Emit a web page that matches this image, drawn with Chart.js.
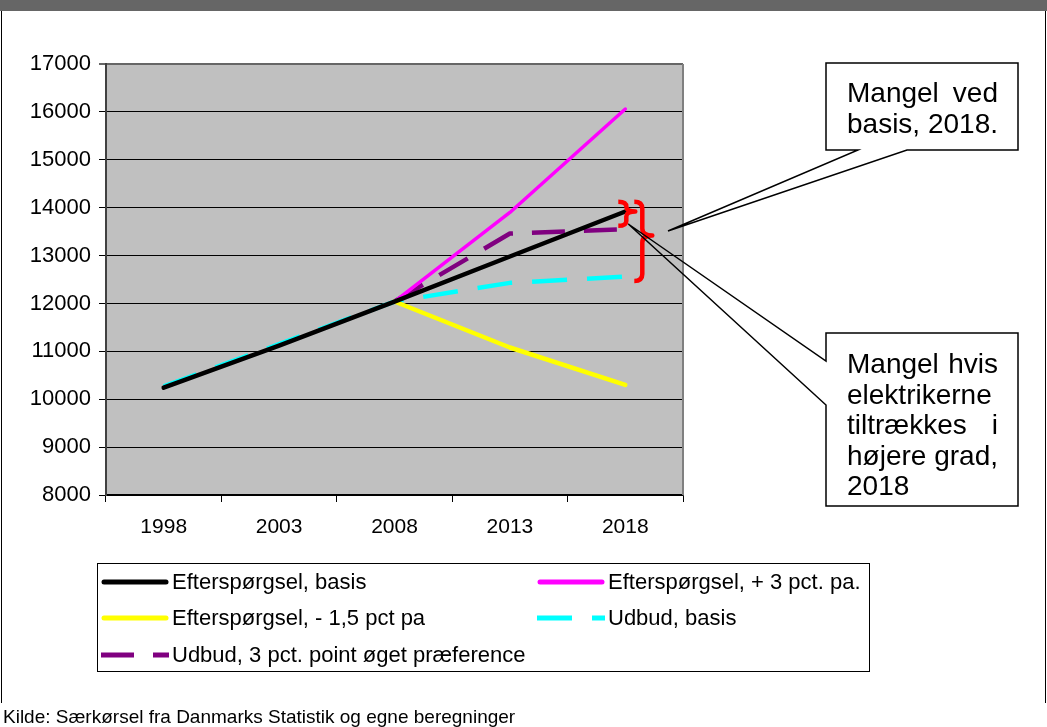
<!DOCTYPE html>
<html>
<head>
<meta charset="utf-8">
<script src="https://cdn.jsdelivr.net/npm/chart.js@4.4.1/dist/chart.umd.min.js"></script>
<style>
  html, body { margin: 0; padding: 0; background: #fff; }
  body { width: 1047px; height: 727px; position: relative; overflow: hidden;
         font-family: "Liberation Sans", Arial, sans-serif; color: #000; }
  #topband { position: absolute; left: 0; top: 0; width: 1047px; height: 11px; background: #666666; }
  #lborder { position: absolute; left: 1px; top: 11px; width: 1px; height: 692px; background: #000; }
  #rborder { position: absolute; left: 1045px; top: 11px; width: 1px; height: 692px; background: #000; }
  #c { position: absolute; left: 0; top: 0; }
  .note { position: absolute; font-size: 28px; line-height: 31px; width: 151px; }
  .note div { text-align: justify; text-align-last: justify; white-space: nowrap; }
  .note div.last { text-align: left; text-align-last: left; }
  #legend { position: absolute; left: 97px; top: 563px; width: 773px; height: 109px; border: 1px solid #000; box-sizing: border-box; }
  .li { position: absolute; height: 30px; font-size: 22px; line-height: 30px; white-space: nowrap; }
  .li svg { position: absolute; left: 0; top: 0; }
  .li span { position: absolute; top: 0; }
  #source { position: absolute; left: 3px; top: 706px; font-size: 19px; line-height: 22px; white-space: nowrap; }
</style>
</head>
<body>
<div id="topband"></div>
<div id="lborder"></div>
<div id="rborder"></div>
<canvas id="c" width="1047" height="727"></canvas>

<div class="note" style="left:847px; top:77px;">
  <div>Mangel ved</div>
  <div class="last">basis, 2018.</div>
</div>
<div class="note" style="left:847px; top:349px; line-height:30.6px;">
  <div>Mangel hvis</div>
  <div class="last">elektrikerne</div>
  <div>tiltrækkes i</div>
  <div>højere grad,</div>
  <div class="last">2018</div>
</div>

<div id="legend"></div>
<div id="source">Kilde: Særkørsel fra Danmarks Statistik og egne beregninger</div>

<script>
// ---- data ----
const categories = ['1998', '2003', '2008', '2013', '2018'];
const demandBasis   = [10240, 11120, 12040, 12980, 13920];
const demandPlus3   = [null, null, 12040, 13900, 16060];
const demandMinus15 = [null, null, 12040, 11080, 10300];
const supplyBasis   = [10270, 11150, 12040, 12430, 12560];
const supplyPref    = [null, null, 12040, 13460, 13550];
const seriesNames = [
  'Efterspørgsel, basis',
  'Efterspørgsel, + 3 pct. pa.',
  'Efterspørgsel, - 1,5 pct pa',
  'Udbud, basis',
  'Udbud, 3 pct. point øget præference'
];
const yMin = 8000, yMax = 17000, yStep = 1000;
// brace annotations (value ranges at 2018)
const smallBrace = { top: 14125, mid: 13920, bottom: 13620 };
const bigBrace   = { top: 14125, mid: 13420, bottom: 12470 };

const colors = ['#000000', '#FF00FF', '#FFFF00', '#00FFFF', '#800080'];
const widths = [4.5, 3.5, 4.5, 4.5, 4.5];
const dashes = [[], [], [], [35, 20], [33, 19]];
const seriesData = [demandBasis, demandPlus3, demandMinus15, supplyBasis, supplyPref];

const FONT = '"Liberation Sans", Arial, sans-serif';

const decorPlugin = {
  id: 'decor',
  beforeDraw(chart) {
    const a = chart.chartArea, ctx = chart.ctx;
    ctx.save();
    ctx.fillStyle = '#C0C0C0';
    ctx.fillRect(a.left, a.top, a.right - a.left, a.bottom - a.top);
    ctx.restore();
  },
  beforeDatasetsDraw(chart) {
    const a = chart.chartArea, ctx = chart.ctx;
    ctx.save();
    ctx.strokeStyle = '#808080';
    ctx.lineWidth = 2;
    ctx.beginPath();
    ctx.moveTo(a.right, a.top);
    ctx.lineTo(a.right, a.bottom);
    ctx.stroke();
    ctx.restore();
  },
  afterDraw(chart) {
    const ctx = chart.ctx;
    const xs = chart.scales.x, ys = chart.scales.y;
    const x18 = xs.getPixelForValue(4);
    function brace(b, xl, xsp, xt) {
      const yt = ys.getPixelForValue(b.top), ym = ys.getPixelForValue(b.mid), yb = ys.getPixelForValue(b.bottom);
      const r = Math.min(7, (ym - yt) / 2, (yb - ym) / 2);
      ctx.beginPath();
      ctx.moveTo(xl, yt);
      ctx.quadraticCurveTo(xsp, yt, xsp, yt + r);
      ctx.lineTo(xsp, ym - r);
      ctx.quadraticCurveTo(xsp, ym, xt, ym);
      ctx.quadraticCurveTo(xsp, ym, xsp, ym + r);
      ctx.lineTo(xsp, yb - r);
      ctx.quadraticCurveTo(xsp, yb, xl, yb);
      ctx.stroke();
    }
    ctx.save();
    ctx.strokeStyle = '#FF0000';
    ctx.lineWidth = 4.5;
    ctx.lineJoin = 'round';
    brace(smallBrace, x18 - 7, x18 + 1, x18 + 10);
    brace(bigBrace, x18 + 9, x18 + 17, x18 + 27);
    ctx.restore();

    // callout shapes
    ctx.save();
    ctx.strokeStyle = '#000';
    ctx.lineWidth = 1.5;
    ctx.beginPath();
    ctx.moveTo(826, 63); ctx.lineTo(1018, 63); ctx.lineTo(1018, 150);
    ctx.lineTo(907, 150); ctx.lineTo(668, 231); ctx.lineTo(858, 150);
    ctx.lineTo(826, 150); ctx.closePath();
    ctx.stroke();
    ctx.beginPath();
    ctx.moveTo(826, 333); ctx.lineTo(1018, 333); ctx.lineTo(1018, 506);
    ctx.lineTo(826, 506); ctx.lineTo(826, 405); ctx.lineTo(x18 + 3, 224);
    ctx.lineTo(826, 361); ctx.closePath();
    ctx.stroke();
    ctx.restore();
  }
};

const datasets = seriesData.map((d, i) => ({
  label: seriesNames[i],
  data: d,
  borderColor: colors[i],
  backgroundColor: colors[i],
  borderWidth: widths[i],
  borderDash: dashes[i],
  borderCapStyle: dashes[i].length ? 'butt' : 'round',
  borderJoinStyle: 'round',
  pointRadius: 0,
  pointHoverRadius: 0,
  tension: 0,
  fill: false,
  spanGaps: false
}));

new Chart(document.getElementById('c'), {
  type: 'line',
  data: { labels: categories, datasets },
  options: {
    responsive: false,
    animation: false,
    devicePixelRatio: 1,
    layout: { padding: { left: 0, top: 64, right: 364, bottom: 0 } },
    plugins: { legend: { display: false }, tooltip: { enabled: false } },
    events: [],
    scales: {
      x: {
        type: 'category',
        offset: true,
        grid: { offset: true, drawOnChartArea: false, drawTicks: true, tickLength: 7, color: '#000', lineWidth: 1 },
        border: { color: '#000', width: 1.5 },
        ticks: { color: '#000', font: { family: FONT, size: 21 }, padding: 13, maxRotation: 0 },
        afterFit(s) { s.height = 232; }
      },
      y: {
        min: yMin, max: yMax,
        grid: {
          color: (c) => (c.tick && c.tick.value === yMax) ? '#666666' : '#000',
          lineWidth: (c) => (c.tick && c.tick.value === yMax) ? 2 : 1,
          tickLength: 7, drawTicks: true
        },
        border: { color: '#404040', width: 2 },
        ticks: { stepSize: yStep, color: '#000', font: { family: FONT, size: 22 }, padding: 8,
                 callback: (v) => String(v) },
        afterFit(s) { s.width = 106; }
      }
    }
  },
  plugins: [decorPlugin]
});

// ---- HTML legend ----
const legendPos = [
  { x: 3, y: 3 }, { x: 439, y: 3 },
  { x: 3, y: 39 }, { x: 439, y: 39 },
  { x: 3, y: 76 }
];
const legend = document.getElementById('legend');
seriesNames.forEach((name, i) => {
  const p = legendPos[i];
  const el = document.createElement('div');
  el.className = 'li';
  el.style.left = p.x + 'px';
  el.style.top = p.y + 'px';
  const dash = dashes[i].length ? `stroke-dasharray="${dashes[i][0]} ${dashes[i][1]}"` : '';
  const cap = dashes[i].length ? 'butt' : 'round';
  const x1 = dashes[i].length ? 0 : 3, x2 = dashes[i].length ? 68 : 65;
  el.innerHTML = `<svg width="70" height="30"><line x1="${x1}" y1="15" x2="${x2}" y2="15" stroke="${colors[i]}" stroke-width="5" stroke-linecap="${cap}" ${dash}/></svg><span style="left:71px">${name}</span>`;
  legend.appendChild(el);
});
</script>
</body>
</html>
